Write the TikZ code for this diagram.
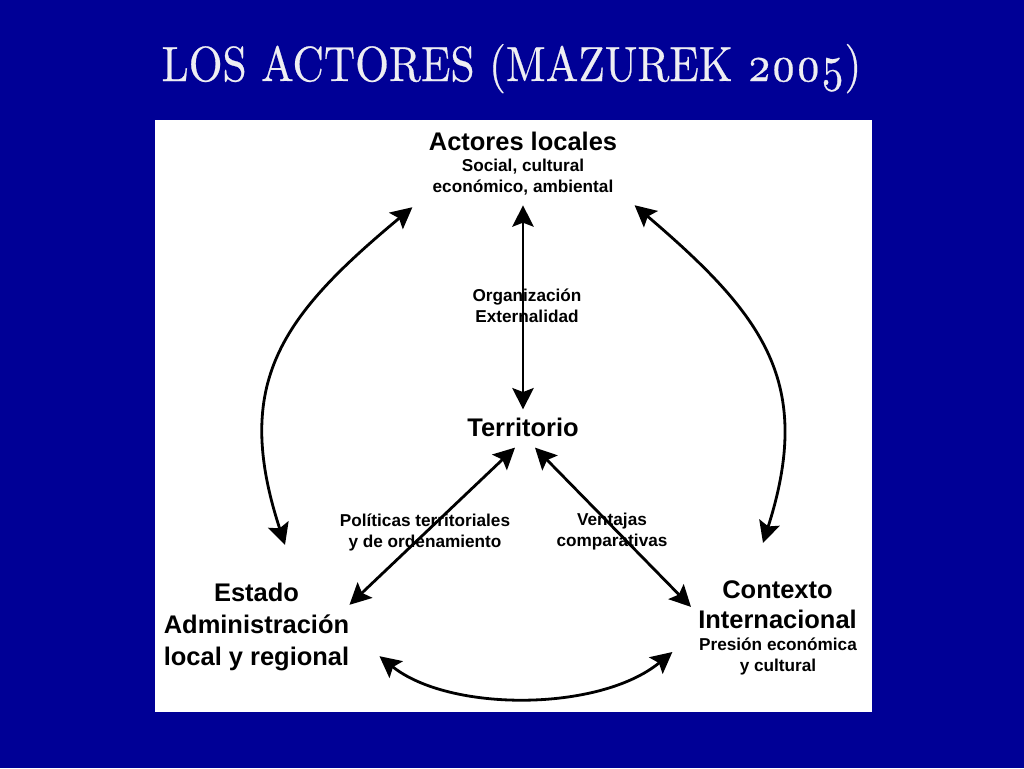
\documentclass[tikz,border=0pt]{standalone}
\usepackage{fontspec}
\usepackage{graphicx}
\setsansfont{Liberation Sans}
\newfontfamily\titlefont[Numbers=OldStyle,FakeBold=0.5]{lmroman10-regular.otf}
\usetikzlibrary{arrows.meta,calc}
\definecolor{bgblue}{RGB}{0,0,150}
\definecolor{titlewhite}{RGB}{238,238,242}
\newcommand\fbig{\sffamily\bfseries\fontsize{19.1pt}{24pt}\selectfont}
\newcommand\fbigc{\sffamily\bfseries\fontsize{19.1pt}{22.5pt}\selectfont}
\newcommand\fsmall{\sffamily\bfseries\fontsize{12.9pt}{15.75pt}\selectfont}
\tikzset{
  txt/.style={inner sep=0pt, align=center, text=black},
  big/.style={txt, font=\fbig},
  bigc/.style={txt, font=\fbigc},
  small/.style={txt, font=\fsmall},
  arr/.style={line width=2.1pt, draw=black,
    {Stealth[length=16pt,width=16pt,inset=3pt]}-{Stealth[length=16pt,width=16pt,inset=3pt]}},
}
\begin{document}
\begin{tikzpicture}[x=0.75pt,y=-0.75pt]
\fill[bgblue] (0,0) rectangle (1024,768);
\useasboundingbox (0,0) rectangle (1024,768);
\fill[white] (155,120) rectangle (872,712);
% title
\node[anchor=base, text=titlewhite, inner sep=0pt] (title) at (511.5,81)
  {\scalebox{0.88}[1]{\titlefont\fontsize{37pt}{42pt}\selectfont LOS ACTORES (MAZUREK 2005)}};
% nodes
\node[big] (act) at (523,141) {Actores locales};
\node[small] (actS) at (523,177.5) {Social, cultural\\económico, ambiental};
\node[big] (terr) at (523,427) {Territorio};
\node[big] (estado) at (256.5,627.4) {Estado\\Administración\\local y regional};
\node[bigc] (ctxT) at (777.5,604.9) {Contexto\\Internacional};
\node[small] (ctxS) at (778,656) {Presión económica\\y cultural};
\node[small] (org) at (527,306) {Organización\\Externalidad};
\node[small] (pol) at (425,532) {Políticas territoriales\\y de ordenamiento};
\node[small] (ven) at (612,532) {Ventajas\\comparativas};
% connectors
\draw[arr] ($(actS.south)+(0,9.5)$) -- ($(terr.north)+(0,-8)$);
\draw[arr] ($(terr.south)+(-8,11)$) -- ($(estado.north east)+(0,21.6)$);
\draw[arr] ($(terr.south)+(12,11)$) -- ($(ctxT.west)+(-7,2)$);
\draw[arr] ($(actS.south west)+(-20,11.4)$) .. controls +(-131,109) and +(-53,-162) .. ($(estado.north)+(28.5,-38.4)$);
\draw[arr] ($(actS.south east)+(21,9.4)$) .. controls +(130,111) and +(51,-160) .. ($(ctxT.north)+(-14.5,-37.7)$);
\draw[arr] ($(estado.south east)+(30,-15.4)$) .. controls +(70,56) and +(-73,60) .. ($(ctxS.west)+(-26.5,-4)$);
\end{tikzpicture}
\end{document}
